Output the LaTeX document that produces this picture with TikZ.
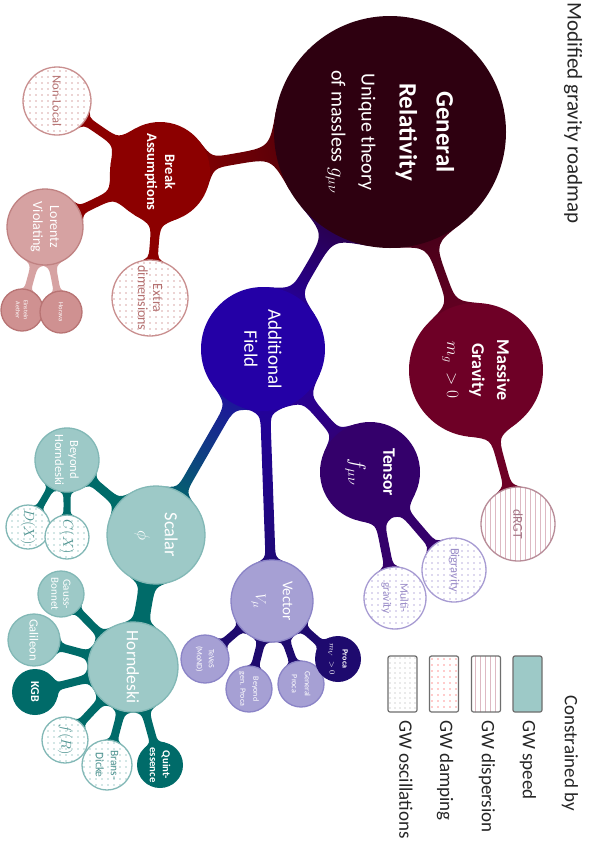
\documentclass[tikz,border=0pt]{standalone}
\usepackage{fontspec}
\setmainfont{Carlito}
\usetikzlibrary{patterns.meta}
\newcommand\fs[2]{\fontsize{#1}{#2}\selectfont}
\newcommand\defc[4]{%
  \expandafter\def\csname cx#1\endcsname{#2}%
  \expandafter\def\csname cy#1\endcsname{#3}%
  \expandafter\def\csname cr#1\endcsname{#4}}
% circles: name, x, y, r (pixel units, y down)
\defc{GR}{390}{132}{116}
\defc{BA}{160}{172}{50}
\defc{NL}{57}{101}{34}
\defc{LV}{45}{227}{38}
\defc{ED}{150}{298}{38}
\defc{EA}{22}{310}{21}
\defc{HO}{61}{312}{21}
\defc{AF}{263}{349}{62}
\defc{TE}{370}{472}{50}
\defc{MG}{476}{370}{67}
\defc{DR}{518}{524}{37}
\defc{BG}{454}{570}{32}
\defc{MU}{395}{598}{31}
\defc{SC}{156}{535}{49}
\defc{BH}{67}{460}{32}
\defc{DX}{28}{527}{22}
\defc{CX}{67}{537}{22}
\defc{GB}{61}{594}{23}
\defc{GA}{34}{640}{26}
\defc{HD}{133}{667}{45}
\defc{KG}{35}{692}{23}
\defc{FR}{65}{740}{23}
\defc{BD}{107}{765}{25}
\defc{QU}{160}{765}{23}
\defc{VE}{272}{601}{41}
\defc{TV}{205}{659}{24}
\defc{BP}{249}{689}{23}
\defc{GP}{301}{684}{23}
\defc{PR}{338}{659}{23}

\definecolor{grc}{HTML}{2E0010}
\definecolor{bac}{HTML}{8C0000}
\definecolor{lvc}{HTML}{D6A2A2}
\definecolor{lvb}{HTML}{C08282}
\definecolor{eac}{HTML}{CF9191}
\definecolor{eab}{HTML}{B87474}
\definecolor{nlb}{HTML}{C98F8F}
\definecolor{nld}{HTML}{D9A9A9}
\definecolor{nlt}{HTML}{B57272}
\definecolor{afc}{HTML}{2400A6}
\definecolor{tec}{HTML}{34006B}
\definecolor{mgc}{HTML}{6E0026}
\definecolor{drb}{HTML}{B88C98}
\definecolor{drl}{HTML}{DDB9C3}
\definecolor{drt}{HTML}{A47585}
\definecolor{teb}{HTML}{A79BD2}
\definecolor{ted}{HTML}{BDB3DF}
\definecolor{tet}{HTML}{9A8CC8}
\definecolor{scc}{HTML}{006B69}
\definecolor{scl}{HTML}{9DC9C7}
\definecolor{scb}{HTML}{82B8B6}
\definecolor{scd}{HTML}{A8CFCD}
\definecolor{sct}{HTML}{4E9390}
\definecolor{vec}{HTML}{1E0A6E}
\definecolor{vel}{HTML}{A6A0D4}
\definecolor{veb}{HTML}{8B84C7}
\definecolor{legb}{HTML}{6E6E6E}

\newcommand\mkpt[5]{%
  \pgfmathsetmacro\cbtmpx{#2+(#4)*(\cbux)+(#5)*(\cbnx)}%
  \pgfmathsetmacro\cbtmpy{#3+(#4)*(\cbuy)+(#5)*(\cbny)}%
  \coordinate (#1) at (\cbtmpx,\cbtmpy);}
\newcommand\cbargeom[5]{%
  \edef\cbax{\csname cx#1\endcsname}\edef\cbay{\csname cy#1\endcsname}\edef\cbar{\csname cr#1\endcsname}%
  \edef\cbbx{\csname cx#2\endcsname}\edef\cbby{\csname cy#2\endcsname}\edef\cbbr{\csname cr#2\endcsname}%
  \pgfmathsetmacro\cbdx{\cbbx-\cbax}\pgfmathsetmacro\cbdy{\cbby-\cbay}%
  \pgfmathsetmacro\cbd{100*sqrt((\cbdx/100)^2+(\cbdy/100)^2)}%
  \pgfmathsetmacro\cbux{\cbdx/\cbd}\pgfmathsetmacro\cbuy{\cbdy/\cbd}%
  \pgfmathsetmacro\cbnx{0-(\cbuy)}\pgfmathsetmacro\cbny{\cbux}%
  \pgfmathsetmacro\cbh{#3}%
  \pgfmathsetmacro\cbtA{(\cbar-\cbh*sin(#4))/cos(#4)}%
  \pgfmathsetmacro\cbeA{\cbtA+sqrt((\cbtA-\cbar*cos(#4))^2+(\cbar*sin(#4)-\cbh)^2)}%
  \pgfmathsetmacro\cbpA{\cbar*cos(#4)}\pgfmathsetmacro\cbqA{\cbar*sin(#4)}%
  \pgfmathsetmacro\cbtB{(\cbbr-\cbh*sin(#5))/cos(#5)}%
  \pgfmathsetmacro\cbeB{\cbtB+sqrt((\cbtB-\cbbr*cos(#5))^2+(\cbbr*sin(#5)-\cbh)^2)}%
  \pgfmathsetmacro\cbpB{\cbbr*cos(#5)}\pgfmathsetmacro\cbqB{\cbbr*sin(#5)}%
  \mkpt{cbPa}{\cbax}{\cbay}{\cbpA}{\cbqA}%
  \mkpt{cbKa}{\cbax}{\cbay}{\cbtA}{\cbh}%
  \mkpt{cbEa}{\cbax}{\cbay}{\cbeA}{\cbh}%
  \mkpt{cbQa}{\cbax}{\cbay}{\cbpA}{-\cbqA}%
  \mkpt{cbLa}{\cbax}{\cbay}{\cbtA}{-\cbh}%
  \mkpt{cbFa}{\cbax}{\cbay}{\cbeA}{-\cbh}%
  \mkpt{cbPb}{\cbbx}{\cbby}{-\cbpB}{\cbqB}%
  \mkpt{cbKb}{\cbbx}{\cbby}{-\cbtB}{\cbh}%
  \mkpt{cbEb}{\cbbx}{\cbby}{-\cbeB}{\cbh}%
  \mkpt{cbQb}{\cbbx}{\cbby}{-\cbpB}{-\cbqB}%
  \mkpt{cbLb}{\cbbx}{\cbby}{-\cbtB}{-\cbh}%
  \mkpt{cbFb}{\cbbx}{\cbby}{-\cbeB}{-\cbh}%
  \coordinate (cbA) at (\cbax,\cbay);\coordinate (cbB) at (\cbbx,\cbby);%
  \pgfmathsetmacro\cbsang{atan2(0-(\cbdx),0-(\cbdy))}}
\newcommand\cbarpath{(cbPa) .. controls (cbKa) .. (cbEa) -- (cbEb) .. controls (cbKb) .. (cbPb) -- (cbB) -- (cbQb) .. controls (cbLb) .. (cbFb) -- (cbFa) .. controls (cbLa) .. (cbQa) -- (cbA) -- cycle}
\newcommand\cbarr[6]{\cbargeom{#1}{#2}{#3}{#4}{#5}\fill[#6] \cbarpath;}
\newcommand\cbarg[7]{\cbargeom{#1}{#2}{#3}{#4}{#5}\path[bottom color=#6, top color=#7, shading angle=\cbsang] \cbarpath;}
\newcommand\cnode[4]{%
  \path[#2] (\csname cx#1\endcsname,\csname cy#1\endcsname) circle (\csname cr#1\endcsname);
  \node[circle, inner sep=0pt, outer sep=0pt, minimum size=2*\csname cr#1\endcsname, rotate=-90, align=center, #3] (#1) at (\csname cx#1\endcsname,\csname cy#1\endcsname) {#4};}
\tikzset{
  pdots/.style={preaction={fill=white}, pattern={Dots[distance=6pt,radius=0.8pt]}, pattern color=#1},
  plines/.style={preaction={fill=white}, pattern={Lines[angle=90,distance=5pt,line width=0.8pt]}, pattern color=#1},
  bord/.style={draw=#1, line width=1.3pt},
  legbox/.style={draw=legb, line width=1.2pt, rounded corners=2pt, minimum width=29pt, minimum height=56pt, inner sep=0pt},
  legtxt/.style={rotate=-90, anchor=west, inner sep=0pt, font=\fs{19}{22}, text=black!85}
}
\begin{document}
\begin{tikzpicture}[x=1pt,y=-1pt]
\fill[white] (0,0) rectangle (590,863);
\useasboundingbox (0,0) rectangle (590,863);
% connectors
\cbarg{GR}{BA}{5.5}{20}{28}{grc}{bac}
\cbarg{GR}{AF}{5.5}{20}{27}{grc}{afc}
\cbarg{GR}{MG}{4.5}{18}{25}{grc}{mgc}
\cbarr{BA}{NL}{4.5}{26}{26}{bac}
\cbarr{BA}{LV}{4.5}{26}{25}{bac}
\cbarr{BA}{ED}{4.5}{26}{24}{bac}
\cbarr{LV}{EA}{3.5}{24}{28}{lvc}
\cbarr{LV}{HO}{3.5}{24}{28}{lvc}
\cbarg{AF}{TE}{5}{25}{25}{afc}{tec}
\cbarg{AF}{SC}{5}{25}{25}{afc}{scc}
\cbarg{AF}{VE}{5}{22}{25}{afc}{vec}
\cbarr{MG}{DR}{4}{22}{28}{mgc}
\cbarr{TE}{BG}{4.5}{24}{28}{tec}
\cbarr{TE}{MU}{4.5}{24}{28}{tec}
\cbarr{SC}{BH}{4.5}{24}{26}{scc}
\cbarr{SC}{HD}{8}{29}{29}{scc}
\cbarr{BH}{DX}{3.5}{22}{26}{scc}
\cbarr{BH}{CX}{3.5}{22}{26}{scc}
\cbarr{HD}{GB}{4}{22}{28}{scc}
\cbarr{HD}{GA}{4}{22}{28}{scc}
\cbarr{HD}{KG}{4}{22}{28}{scc}
\cbarr{HD}{FR}{4}{22}{28}{scc}
\cbarr{HD}{BD}{4}{22}{28}{scc}
\cbarr{HD}{QU}{4}{22}{28}{scc}
\cbarr{VE}{TV}{4}{20}{28}{vec}
\cbarr{VE}{BP}{4}{20}{28}{vec}
\cbarr{VE}{GP}{4}{20}{28}{vec}
\cbarr{VE}{PR}{4}{20}{28}{vec}
% circles
\cnode{GR}{fill=grc}{text=white, font=\fs{20}{30}}{{\fs{25}{30}\bfseries General}\\[7pt]{\fs{25}{30}\bfseries Relativity}\\[8pt]Unique theory\\of massless $g_{\mu\nu}$}
\cnode{BA}{fill=bac}{text=white, font=\fs{14.5}{18}\bfseries}{Break\\Assumptions}
\cnode{NL}{pdots=nld}{bord=nlb, text=nlt, font=\fs{12.5}{15}}{Non-Local}
\cnode{LV}{fill=lvc}{bord=lvb, text=white, font=\fs{14}{17}}{Lorentz\\Violating}
\cnode{ED}{pdots=nld}{bord=nlb, text=nlt, font=\fs{14}{15}}{Extra\\dimensions}
\cnode{EA}{fill=eac}{bord=eab, text=white, font=\fs{6}{8}}{Einstein\\Aether}
\cnode{HO}{fill=eac}{bord=eab, text=white, font=\fs{6.5}{8}}{Horava}
\cnode{AF}{fill=afc}{text=white, font=\fs{19}{24}}{Additional\\Field}
\cnode{TE}{fill=tec}{text=white, font=\fs{17.5}{32}\bfseries}{Tensor\\{\fs{20}{24}$f_{\mu\nu}$}}
\cnode{MG}{fill=mgc}{text=white, font=\fs{18}{25}\bfseries}{Massive\\Gravity\\$m_g\;>0$}
\cnode{DR}{plines=drl}{bord=drb, text=drt, font=\fs{13.5}{16}}{dRGT}
\cnode{BG}{pdots=ted}{bord=teb, text=tet, font=\fs{12.5}{15}}{Bigravity}
\cnode{MU}{pdots=ted}{bord=teb, text=tet, font=\fs{11.5}{17}}{Multi-\\gravity}
\cnode{SC}{fill=scl}{bord=scb, text=white, font=\fs{18.5}{27}}{Scalar\\$\phi$}
\cnode{BH}{fill=scl}{bord=scb, text=white, font=\fs{12.5}{15}}{Beyond\\Horndeski}
\cnode{DX}{pdots=scd}{bord=scb, text=sct, font=\fs{14}{16}}{$D(X)$}
\cnode{CX}{pdots=scd}{bord=scb, text=sct, font=\fs{14}{16}}{$C(X)$}
\cnode{GB}{fill=scl}{bord=scb, text=white, font=\fs{11}{12}}{Gauss-\\Bonnet}
\cnode{GA}{fill=scl}{bord=scb, text=white, font=\fs{12.5}{15}}{Galileon}
\cnode{HD}{fill=scl}{bord=scb, text=white, font=\fs{17.5}{20}}{Horndeski}
\cnode{KG}{fill=scc}{text=white, font=\fs{12}{14}\bfseries}{KGB}
\cnode{FR}{pdots=scd}{bord=scb, text=sct, font=\fs{14}{16}}{$f(R)$}
\cnode{BD}{pdots=scd}{bord=scb, text=sct, font=\fs{11.5}{15}}{Brans-\\Dicke}
\cnode{QU}{fill=scc}{text=white, font=\fs{10.7}{13}\bfseries}{Quint-\\essence}
\cnode{VE}{fill=vel}{bord=veb, text=white, font=\fs{15}{27}}{Vector\\$V_\mu$}
\cnode{TV}{fill=vel}{bord=veb, text=white, font=\fs{8}{12}}{TeVeS\\(MoND)}
\cnode{BP}{fill=vel}{bord=veb, text=white, font=\fs{8}{13}}{Beyond\\gen. Proca}
\cnode{GP}{fill=vel}{bord=veb, text=white, font=\fs{8}{13}}{General\\Proca}
\cnode{PR}{fill=vec}{text=white, font=\fs{8}{13}\bfseries}{Proca\\$m_V\;>0$}
% title
\node[rotate=-90, anchor=west, inner sep=0pt, font=\fs{21}{24}, text=black!85] (title) at (573,2) {Modified gravity roadmap};
% legend
\node[legbox, pattern={Dots[distance=5pt,radius=0.55pt]}, pattern color=black!35] (Lo) at (402.5,684) {};
\node[legbox, pattern={Dots[distance=6pt,radius=0.8pt]}, pattern color=red!40] (Ld) at (444,684) {};
\node[legbox, pattern={Lines[angle=90,distance=5pt,line width=0.6pt]}, pattern color=drl] (Ls) at (486,684) {};
\node[legbox, fill=scl] (Lv) at (527.5,684) {};
\node[legtxt] (To) at (406,720) {GW oscillations};
\node[legtxt] (Td) at (445,720) {GW damping};
\node[legtxt] (Ts) at (487,720) {GW dispersion};
\node[legtxt] (Tv) at (528,720) {GW speed};
\node[legtxt] (Tc) at (570,695) {Constrained by};
\end{tikzpicture}
\end{document}
